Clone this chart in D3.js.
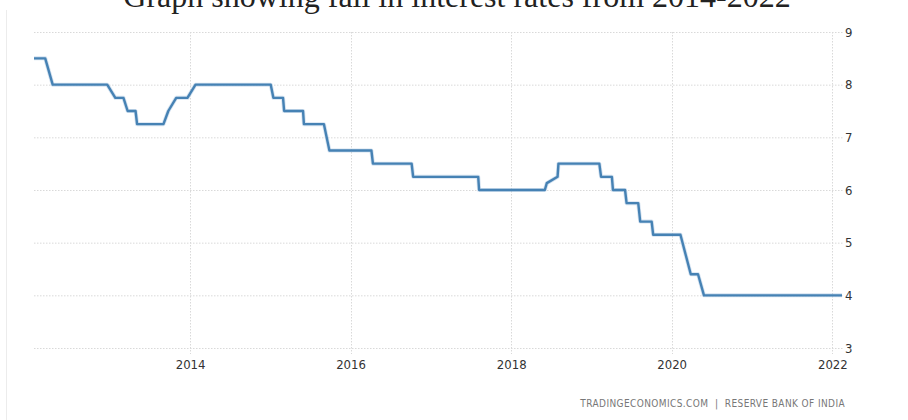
<!DOCTYPE html>
<html>
<head>
<meta charset="utf-8">
<script src="https://cdn.jsdelivr.net/npm/d3@7"></script>
<style>
  body { margin: 0; background: #fff; }
  .grid line { stroke: #d9d9d9; stroke-dasharray: 1.5,1.5; }
  .axis text { font-family: "Liberation Sans Narrow", "DejaVu Sans Condensed", "Liberation Sans", sans-serif; font-size: 13px; fill: #333; }
  .axis path, .axis line { display: none; }
</style>
</head>
<body>
<svg id="chart" width="908" height="420"></svg>
<script>
// repo rate (vertices of the stepped line)
var dates = ['2012-01-22','2012-03-13','2012-04-16','2012-12-20','2013-01-26','2013-03-04','2013-03-23',
  '2013-04-28','2013-05-05','2013-09-02','2013-09-24','2013-10-30','2013-12-20','2014-01-26',
  '2015-01-03','2015-01-15','2015-02-28','2015-03-05','2015-05-30','2015-06-03','2015-09-02','2015-09-27',
  '2016-04-05','2016-04-12','2016-10-05','2016-10-12','2017-08-04','2017-08-08',
  '2018-06-03','2018-06-12','2018-07-31','2018-08-04','2019-02-06','2019-02-14',
  '2019-04-04','2019-04-09','2019-06-03','2019-06-10','2019-08-02','2019-08-11','2019-10-02','2019-10-09',
  '2020-02-10','2020-03-28','2020-04-30','2020-05-27','2022-02-14'];
var rates = [8.5,8.5,8.0,8.0,7.75,7.75,7.5,
  7.5,7.25,7.25,7.5,7.75,7.75,8.0,
  8.0,7.75,7.75,7.5,7.5,7.25,7.25,6.75,
  6.75,6.5,6.5,6.25,6.25,6.0,
  6.0,6.13,6.25,6.5,6.5,6.25,
  6.25,6.0,6.0,5.75,5.75,5.4,5.4,5.15,
  5.15,4.4,4.4,4.0,4.0];
var yearTicks = [2014, 2016, 2018, 2020, 2022];
var rateTicks = [3, 4, 5, 6, 7, 8, 9];
var title = 'Graph showing fall in interest rates from 2014-2022';
var source = 'TRADINGECONOMICS.COM  |  RESERVE BANK OF INDIA';

var parse = d3.timeParse('%Y-%m-%d');
var data = dates.map(function(d, i){ return {date: parse(d), value: rates[i]}; });

var x = d3.scaleTime().domain(d3.extent(data, function(d){ return d.date; })).range([34, 842]);
var y = d3.scaleLinear().domain([3, 9]).range([348, 32]);

var svg = d3.select('#chart');

// faint left border of the embedded chart
svg.append('line')
  .attr('x1', 6.5).attr('x2', 6.5).attr('y1', 10).attr('y2', 420)
  .attr('stroke', '#ececec');

// title, cut off at the top like in the original screenshot
svg.append('text')
  .attr('x', 457).attr('y', 7)
  .attr('text-anchor', 'middle')
  .style('font-family', '"Liberation Serif", "DejaVu Serif", serif')
  .style('font-size', '32px')
  .style('fill', '#222')
  .text(title);

// gridlines
svg.append('g').attr('class', 'grid')
  .selectAll('line').data(rateTicks).enter().append('line')
  .attr('x1', 34).attr('x2', 843)
  .attr('y1', function(d){ return y(d) + 0.5; })
  .attr('y2', function(d){ return y(d) + 0.5; });

svg.append('g').attr('class', 'grid')
  .selectAll('line').data(yearTicks).enter().append('line')
  .attr('x1', function(d){ return Math.round(x(new Date(d, 0, 1))) + 0.5; })
  .attr('x2', function(d){ return Math.round(x(new Date(d, 0, 1))) + 0.5; })
  .attr('y1', 32).attr('y2', 354);

// axes
svg.append('g').attr('class', 'axis')
  .attr('transform', 'translate(842,0)')
  .call(d3.axisRight(y).tickValues(rateTicks).tickSize(0).tickPadding(3).tickFormat(d3.format('d')));

svg.append('g').attr('class', 'axis')
  .attr('transform', 'translate(0,348)')
  .call(d3.axisBottom(x)
    .tickValues(yearTicks.map(function(d){ return new Date(d, 0, 1); }))
    .tickSize(0).tickPadding(12).tickFormat(d3.timeFormat('%Y')));

// the rate line
var line = d3.line()
  .x(function(d){ return x(d.date); })
  .y(function(d){ return y(d.value); });

svg.append('path').datum(data)
  .attr('d', line)
  .attr('fill', 'none')
  .attr('stroke', '#a9c6e2')
  .attr('stroke-width', 4)
  .attr('stroke-linejoin', 'round')
  .attr('opacity', 0.5);

svg.append('path').datum(data)
  .attr('d', line)
  .attr('fill', 'none')
  .attr('stroke', '#4682b4')
  .attr('stroke-width', 2.4)
  .attr('stroke-linejoin', 'round');

// source note
svg.append('text')
  .attr('x', 845).attr('y', 407)
  .attr('text-anchor', 'end')
  .style('font-family', '"Liberation Sans Narrow", "DejaVu Sans Condensed", "Liberation Sans", sans-serif')
  .style('font-size', '10px')
  .style('letter-spacing', '0.4px')
  .style('fill', '#777')
  .style('white-space', 'pre')
  .text(source);
</script>
</body>
</html>
